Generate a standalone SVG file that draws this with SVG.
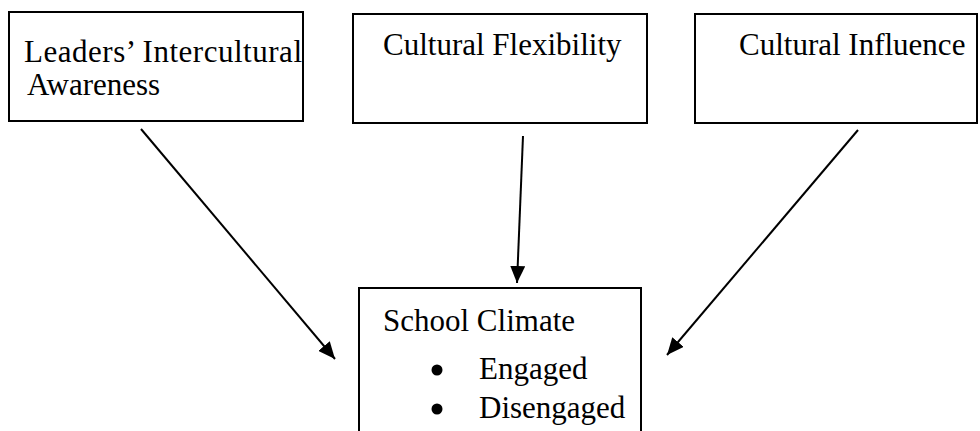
<svg xmlns="http://www.w3.org/2000/svg" width="980" height="431" viewBox="0 0 980 431">
  <style>
    .box { fill: #ffffff; stroke: #000000; stroke-width: 2; }
    .label { font-family: "Liberation Serif", "Times New Roman", serif; font-size: 31px; fill: #000000; }
    .link { stroke: #000000; stroke-width: 2; fill: none; marker-end: url(#head); }
  </style>
  <defs>
    <marker id="head" viewBox="0 0 17 15" refX="17" refY="7.5" markerWidth="17" markerHeight="15" markerUnits="userSpaceOnUse" orient="auto">
      <path d="M0,0 L17,7.5 L0,15 Z" fill="#000000"/>
    </marker>
  </defs>
  <rect width="980" height="431" fill="#ffffff"/>

  <g id="awareness">
    <rect class="box" x="9" y="12" width="294" height="109"/>
    <text class="label" x="24" y="62" textLength="278" lengthAdjust="spacing">Leaders’ Intercultural</text>
    <text class="label" x="27" y="95">Awareness</text>
  </g>

  <g id="flexibility">
    <rect class="box" x="353" y="14" width="294" height="109"/>
    <text class="label" x="383" y="55">Cultural Flexibility</text>
  </g>

  <g id="influence">
    <rect class="box" x="695" y="14" width="282" height="109"/>
    <text class="label" x="739" y="55">Cultural Influence</text>
  </g>

  <g id="climate">
    <rect class="box" x="359" y="288" width="282" height="160"/>
    <text class="label" x="383" y="331">School Climate</text>
    <circle cx="437" cy="370" r="5.5" fill="#000000"/>
    <text class="label" x="479" y="379">Engaged</text>
    <circle cx="437" cy="409" r="5.5" fill="#000000"/>
    <text class="label" x="479" y="418">Disengaged</text>
  </g>

  <g id="connectors">
    <line class="link" x1="141" y1="129" x2="335" y2="359"/>
    <line class="link" x1="523" y1="136" x2="517" y2="283"/>
    <line class="link" x1="858" y1="130" x2="667" y2="355"/>
  </g>
</svg>
